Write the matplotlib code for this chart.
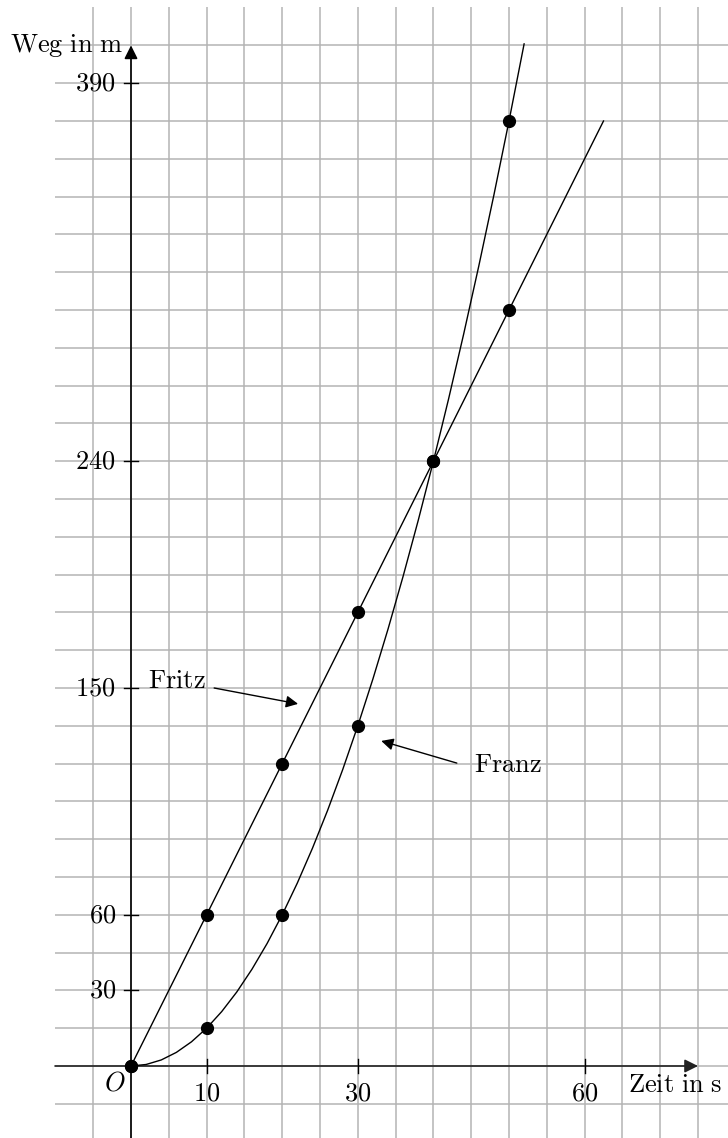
import matplotlib
matplotlib.use("Agg")
import matplotlib.pyplot as plt
from matplotlib.patches import FancyArrowPatch

plt.rcParams['mathtext.fontset'] = 'cm'
plt.rcParams['font.family'] = ['DejaVu Serif']

# ---- data ----
fritz_t = [0, 10, 20, 30, 40, 50]
fritz_s = [0, 60, 120, 180, 240, 300]
fritz_line_t = [0, 10, 20, 30, 40, 50, 62.5]
fritz_line_s = [0, 60, 120, 180, 240, 300, 375]

franz_t = [0, 10, 20, 30, 40, 50]
franz_s = [0, 15, 60, 135, 240, 375]
franz_curve_t = [0, 2, 4, 6, 8, 10, 12, 14, 16, 18, 20, 22, 24, 26, 28, 30,
                 32, 34, 36, 38, 40, 42, 44, 46, 48, 50, 52]
franz_curve_s = [0, 0.6, 2.4, 5.4, 9.6, 15, 21.6, 29.4, 38.4, 48.6, 60, 72.6,
                 86.4, 101.4, 117.6, 135, 153.6, 173.4, 194.4, 216.6, 240,
                 264.6, 290.4, 317.4, 345.6, 375, 405.6]

x_ticks = [10, 30, 60]
x_tick_labels = ['10', '30', '60']
y_ticks = [30, 60, 150, 240, 390]
y_tick_labels = ['30', '60', '150', '240', '390']

grid_x = list(range(-5, 80, 5))
grid_y = list(range(-15, 406, 15))

# ---- figure ----
W, H = 728, 1138
fig = plt.figure(figsize=(W / 100, H / 100), dpi=100)
ax = fig.add_axes([0, 0, 1, 1])
px_t = 7.56   # px per second
px_s = 2.52   # px per metre
x0, y0 = 131, 1066
ax.set_xlim(-x0 / px_t, (W - x0) / px_t)
ax.set_ylim(-(H - y0) / px_s, y0 / px_s)
ax.axis('off')

grid_col = '#b4b4b4'
ax.vlines(grid_x, -(H - y0) / px_s, 420.2, colors=grid_col, lw=1.1, zorder=1)
ax.hlines(grid_y, -10.05, 80, colors=grid_col, lw=1.1, zorder=1)

# axes with arrows
ax.add_patch(FancyArrowPatch((-10.05, 0), (75, 0), arrowstyle='-|>',
                             mutation_scale=20, lw=1.2, color='#222222',
                             shrinkA=0, shrinkB=0, zorder=3))
ax.add_patch(FancyArrowPatch((0, -(H - y0) / px_s), (0, 405), arrowstyle='-|>',
                             mutation_scale=20, lw=1.2, color='black',
                             shrinkA=0, shrinkB=0, zorder=3))

# ticks
for t in x_ticks:
    ax.plot([t, t], [-2.8, 2.8], color='black', lw=1.0, zorder=3)
for s in y_ticks:
    ax.plot([-0.95, 0.95], [s, s], color='black', lw=1.0, zorder=3)

fs = 19
for t, lab in zip(x_ticks, x_tick_labels):
    ax.text(t, -13.5, r'$%s$' % lab, ha='center', va='baseline', fontsize=fs, zorder=4)
for s, lab in zip(y_ticks, y_tick_labels):
    ax.text(-2.0, s, r'$%s$' % lab, ha='right', va='center', fontsize=fs, zorder=4)

ax.text(-2.1, -9.9, r'$O$', ha='center', va='baseline', fontsize=fs, zorder=4)
ax.text(-1.0, 402.4, r'$\mathrm{Weg\ in\ m}$', ha='right', va='baseline', fontsize=fs, zorder=4)
ax.text(65.7, -10.3, r'$\mathrm{Zeit\ in\ s}$', ha='left', va='baseline', fontsize=fs, zorder=4)

# curves
ax.plot(fritz_line_t, fritz_line_s, color='black', lw=1.0, zorder=5)
ax.plot(franz_curve_t, franz_curve_s, color='black', lw=1.0, zorder=5)
ax.plot(fritz_t, fritz_s, 'o', color='black', ms=8.5, zorder=6)
ax.plot(franz_t, franz_s, 'o', color='black', ms=8.5, zorder=6)

# labels with arrows
ax.text(9.9, 150.0, r'$\mathrm{Fritz}$', ha='right', va='baseline', fontsize=fs, zorder=4)
ax.add_patch(FancyArrowPatch((11.0, 150.0), (22.1, 143.7), arrowstyle='-|>',
                             mutation_scale=18, lw=1.0, color='black',
                             shrinkA=0, shrinkB=0, zorder=5))
ax.text(45.4, 116.5, r'$\mathrm{Franz}$', ha='left', va='baseline', fontsize=fs, zorder=4)
ax.add_patch(FancyArrowPatch((43.1, 120.2), (33.1, 129.0), arrowstyle='-|>',
                             mutation_scale=18, lw=1.0, color='black',
                             shrinkA=0, shrinkB=0, zorder=5))

fig.savefig('out.png', dpi=100)
